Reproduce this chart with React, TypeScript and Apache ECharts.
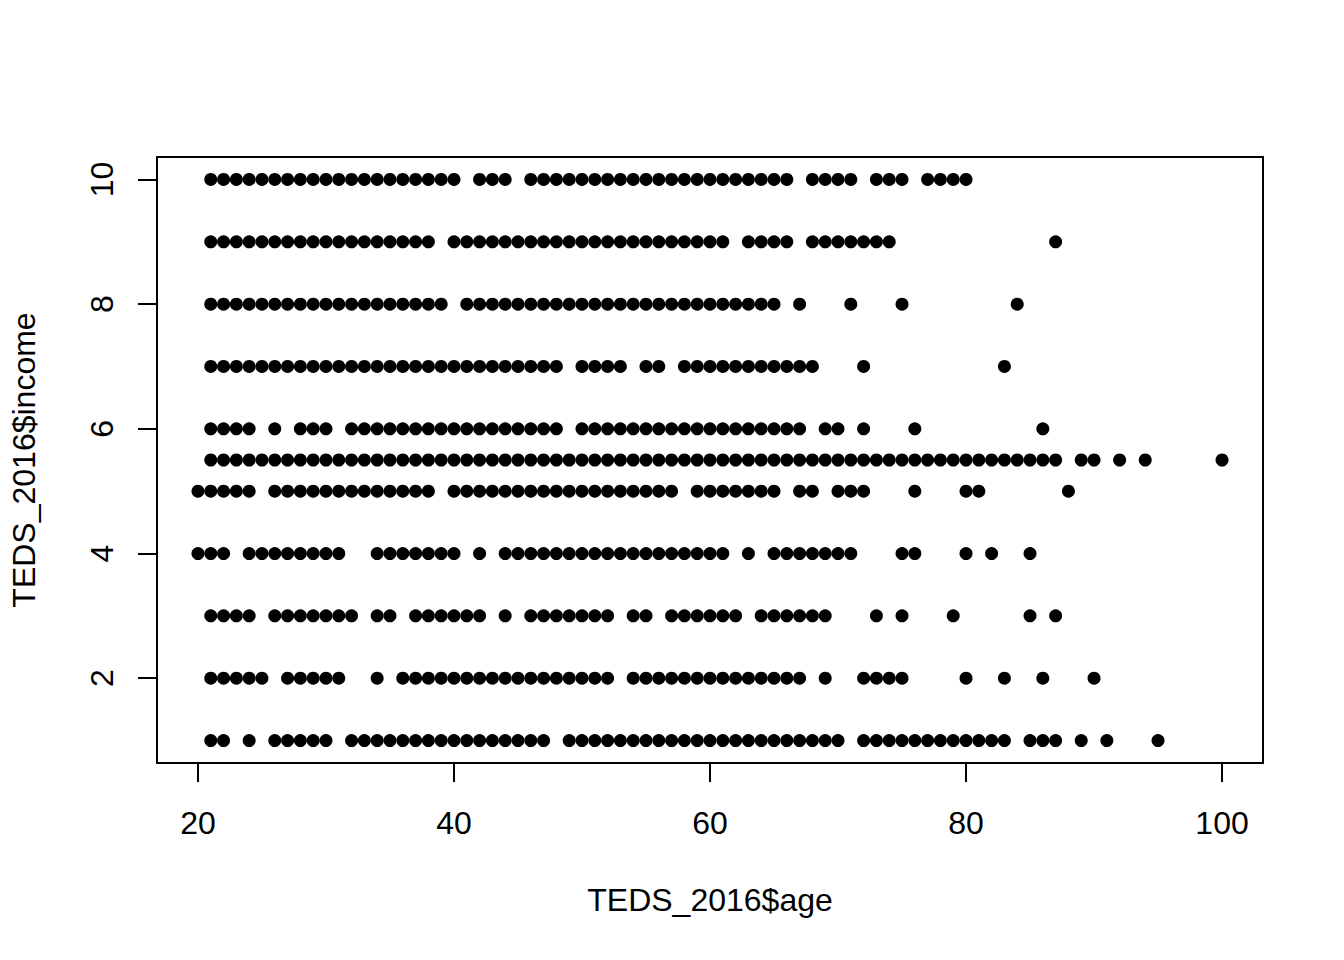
import React, { useEffect, useRef } from "react";
import * as echarts from "echarts";

const inc10 = [21,22,23,24,25,26,27,28,29,30,31,32,33,34,35,36,37,38,39,40,42,43,44,46,47,48,49,50,51,52,53,54,55,56,57,58,59,60,61,62,63,64,65,66,68,69,70,71,73,74,75,77,78,79,80];
const inc9 = [21,22,23,24,25,26,27,28,29,30,31,32,33,34,35,36,37,38,40,41,42,43,44,45,46,47,48,49,50,51,52,53,54,55,56,57,58,59,60,61,63,64,65,66,68,69,70,71,72,73,74,87];
const inc8 = [21,22,23,24,25,26,27,28,29,30,31,32,33,34,35,36,37,38,39,41,42,43,44,45,46,47,48,49,50,51,52,53,54,55,56,57,58,59,60,61,62,63,64,65,67,71,75,84];
const inc7 = [21,22,23,24,25,26,27,28,29,30,31,32,33,34,35,36,37,38,39,40,41,42,43,44,45,46,47,48,50,51,52,53,55,56,58,59,60,61,62,63,64,65,66,67,68,72,83];
const inc6 = [21,22,23,24,26,28,29,30,32,33,34,35,36,37,38,39,40,41,42,43,44,45,46,47,48,50,51,52,53,54,55,56,57,58,59,60,61,62,63,64,65,66,67,69,70,72,76,86];
const inc55 = [21,22,23,24,25,26,27,28,29,30,31,32,33,34,35,36,37,38,39,40,41,42,43,44,45,46,47,48,49,50,51,52,53,54,55,56,57,58,59,60,61,62,63,64,65,66,67,68,69,70,71,72,73,74,75,76,77,78,79,80,81,82,83,84,85,86,87,89,90,92,94,100];
const inc5 = [20,21,22,23,24,26,27,28,29,30,31,32,33,34,35,36,37,38,40,41,42,43,44,45,46,47,48,49,50,51,52,53,54,55,56,57,59,60,61,62,63,64,65,67,68,70,71,72,76,80,81,88];
const inc4 = [20,21,22,24,25,26,27,28,29,30,31,34,35,36,37,38,39,40,42,44,45,46,47,48,49,50,51,52,53,54,55,56,57,58,59,60,61,63,65,66,67,68,69,70,71,75,76,80,82,85];
const inc3 = [21,22,23,24,26,27,28,29,30,31,32,34,35,37,38,39,40,41,42,44,46,47,48,49,50,51,52,54,55,57,58,59,60,61,62,64,65,66,67,68,69,73,75,79,85,87];
const inc2 = [21,22,23,24,25,27,28,29,30,31,34,36,37,38,39,40,41,42,43,44,45,46,47,48,49,50,51,52,54,55,56,57,58,59,60,61,62,63,64,65,66,67,69,72,73,74,75,80,83,86,90];
const inc1 = [21,22,24,26,27,28,29,30,32,33,34,35,36,37,38,39,40,41,42,43,44,45,46,47,49,50,51,52,53,54,55,56,57,58,59,60,61,62,63,64,65,66,67,68,69,70,72,73,74,75,76,77,78,79,80,81,82,83,85,86,87,89,91,95];

const incomeLevels = [10, 9, 8, 7, 6, 5.5, 5, 4, 3, 2, 1];
const agesByLevel = [inc10, inc9, inc8, inc7, inc6, inc55, inc5, inc4, inc3, inc2, inc1];

const xTicks = [20, 40, 60, 80, 100];
const yTicks = [2, 4, 6, 8, 10];

export default function App() {
  const ref = useRef<HTMLDivElement>(null);
  useEffect(() => {
    if (!ref.current) return;
    const chart = echarts.init(ref.current, null, { renderer: "svg" });
    const points: number[][] = [];
    incomeLevels.forEach((lv, i) => {
      agesByLevel[i].forEach((a) => points.push([a, lv]));
    });
    const font = "Liberation Sans, Arial, sans-serif";
    chart.setOption({
      animation: false,
      backgroundColor: "#ffffff",
      grid: {
        left: 157,
        right: 81,
        top: 157,
        bottom: 197,
        show: true,
        borderColor: "#000",
        borderWidth: 2,
        backgroundColor: "transparent",
      },
      xAxis: {
        type: "value",
        min: 16.8,
        max: 103.2,
        name: "TEDS_2016$age",
        nameLocation: "middle",
        nameGap: 121,
        nameTextStyle: { color: "#000", fontSize: 32, fontFamily: font },
        axisLine: { show: false },
        splitLine: { show: false },
        axisTick: {
          show: true,
          inside: false,
          length: 19,
          customValues: xTicks,
          lineStyle: { color: "#000", width: 2 },
        },
        axisLabel: {
          customValues: xTicks,
          margin: 44,
          color: "#000",
          fontSize: 32,
          fontFamily: font,
        },
      },
      yAxis: {
        type: "value",
        min: 0.64,
        max: 10.36,
        name: "TEDS_2016$income",
        nameLocation: "middle",
        nameGap: 117,
        nameRotate: 90,
        nameTextStyle: { color: "#000", fontSize: 32, fontFamily: font },
        axisLine: { show: false },
        splitLine: { show: false },
        axisTick: {
          show: true,
          inside: false,
          length: 19,
          customValues: yTicks,
          lineStyle: { color: "#000", width: 2 },
        },
        axisLabel: {
          customValues: yTicks,
          rotate: 90,
          margin: 55,
          color: "#000",
          fontSize: 32,
          fontFamily: font,
          align: "center",
          verticalAlign: "middle",
        },
      },
      series: [
        {
          type: "scatter",
          data: points,
          symbol: "circle",
          symbolSize: 13,
          itemStyle: { color: "#000", opacity: 1 },
        },
      ],
    });
    return () => chart.dispose();
  }, []);
  return (
    <div
      ref={ref}
      style={{ position: "fixed", left: 0, top: 0, width: 1344, height: 960, background: "#fff" }}
    />
  );
}
